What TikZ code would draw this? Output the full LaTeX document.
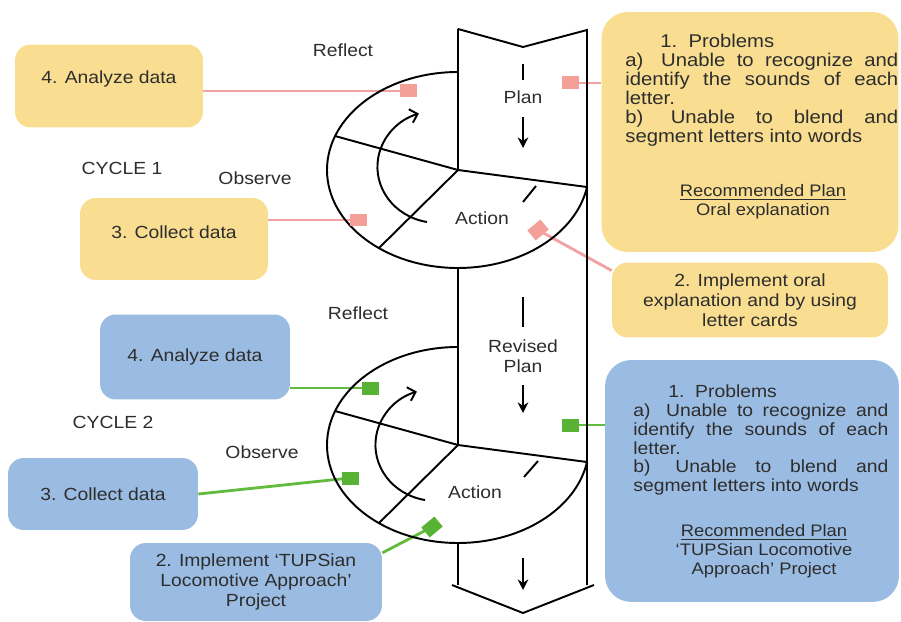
\documentclass[tikz,border=0pt]{standalone}
\usepackage{fontspec}
\setmainfont{Liberation Sans}[FakeStretch=1.1]
\usetikzlibrary{arrows.meta, positioning}
\usepackage{xcolor}
\definecolor{boxyellow}{RGB}{249,222,145}
\definecolor{boxblue}{RGB}{155,188,226}
\definecolor{linkpink}{RGB}{242,162,162}
\definecolor{tagpink}{RGB}{244,160,152}
\definecolor{linkgreen}{RGB}{98,186,62}
\definecolor{taggreen}{RGB}{88,178,52}
\definecolor{txtgray}{RGB}{45,45,45}

\begin{document}
\begin{tikzpicture}[
    x=0.02cm, y=-0.02cm,
    >=Stealth,
    every node/.style={font=\fontsize{10}{11.5}\selectfont, text=txtgray, inner sep=0pt},
    yelbox/.style={rectangle, rounded corners=9pt, fill=boxyellow, align=center},
    blubox/.style={rectangle, rounded corners=9pt, fill=boxblue, align=center},
    bigbox/.style={rounded corners=15pt},
    spiral/.style={draw=black, line width=1.1pt},
    pinkln/.style={draw=linkpink, line width=1.6pt},
    greenln/.style={draw=linkgreen, line width=1.6pt},
    ptag/.style={rectangle, fill=tagpink, minimum width=0.34cm, minimum height=0.26cm},
    gtag/.style={rectangle, fill=taggreen, minimum width=0.34cm, minimum height=0.26cm},
    probtext/.style={align=justify, anchor=north west, font=\fontsize{10.5}{10.8}\selectfont},
    rectext/.style={align=center, font=\fontsize{9.5}{10.8}\selectfont}
  ]

  \useasboundingbox[fill=white] (0,0) rectangle (901,621);

  % cycle 1 boxes
  \node[yelbox, minimum width=3.76cm, minimum height=1.66cm, text depth=10pt] (ana1) at (109,86) {4. Analyze data};
  \node[yelbox, minimum width=3.76cm, minimum height=1.64cm, text depth=8pt] (col1) at (174,239) {3. Collect data};
  \node[yelbox, bigbox, minimum width=5.94cm, minimum height=4.8cm] (prob1) at (750,132) {};
  \node[yelbox, minimum width=5.52cm, minimum height=1.5cm] (impl1) at (750,300) {2. Implement oral\\explanation and by using\\letter cards};

  \node[probtext, text width=5.46cm] (p1txt) at (625,34)
    {\hspace*{0.7cm}1.\ \ Problems\\
     a)\hspace{0.35em} Unable to recognize and\linebreak identify the sounds of each\linebreak letter.\\
     b)\hspace{0.35em} Unable to blend and\linebreak segment letters into words};
  \node[rectext] (rec1) at (763,202) {\underline{Recommended Plan}\\Oral explanation};

  % cycle 2 boxes
  \node[blubox, minimum width=3.8cm, minimum height=1.7cm] (ana2) at (195,357) {4. Analyze data};
  \node[blubox, minimum width=3.8cm, minimum height=1.44cm] (col2) at (103,494) {3. Collect data};
  \node[blubox, minimum width=5.04cm, minimum height=1.56cm] (impl2) at (256,582) {2. Implement `TUPSian\\Locomotive Approach'\\Project};
  \node[blubox, bigbox, minimum width=5.88cm, minimum height=4.84cm] (prob2) at (752,481) {};

  \node[probtext, text width=5.1cm, font=\fontsize{10}{10.8}\selectfont] (p2txt) at (633,384)
    {\hspace*{0.7cm}1.\ \ Problems\\
     a)\hspace{0.35em} Unable to recognize and\linebreak identify the sounds of each\linebreak letter.\\
     b)\hspace{0.35em} Unable to blend and\linebreak segment letters into words};
  \node[rectext] (rec2) at (764,551) {\underline{Recommended Plan}\\`TUPSian Locomotive\\Approach' Project};

  % tag positions
  \coordinate (t1) at (408,91);
  \coordinate (t2) at (358,220);
  \coordinate (t3) at (570,83);
  \coordinate (t4) at (538,230);
  \coordinate (g1) at (370,388);
  \coordinate (g2) at (350,478);
  \coordinate (g3) at (432,527);
  \coordinate (g4) at (570,425);

  \draw[pinkln] (ana1.east |- t1) -- (t1);
  \draw[pinkln] (col1.east |- t2) -- (t2);
  \draw[pinkln] (prob1.west |- t3) -- (t3);
  \draw[pinkln] (impl1.168) -- (t4);
  \draw[greenln] (ana2.east |- g1) -- (g1);
  \draw[greenln] (col2.east) -- (g2);
  \draw[greenln] (impl2.13) -- (g3);
  \draw[greenln] (prob2.west |- g4) -- (g4);

  % cycle 1
  \coordinate (c1) at (458,170);
  \draw[spiral] (458,72) arc[start angle=270, end angle=10, x radius=131, y radius=98] coordinate (r1);
  \draw[spiral] (458,29) -- (c1) -- (r1);
  \draw[spiral] (c1) -- (335,136);
  \draw[spiral] (c1) -- (379,248);
  \draw[spiral, -{Straight Barb[length=4pt, width=8pt]}] (427,222) arc[start angle=100, end angle=252, x radius=60, y radius=56];
  \draw[spiral] (523,202) -- (536,186);

  % cycle 2
  \coordinate (c2) at (458,445);
  \draw[spiral] (458,347) arc[start angle=270, end angle=10, x radius=131, y radius=98] coordinate (r2);
  \draw[spiral] (458,268) -- (c2) -- (r2);
  \draw[spiral] (c2) -- (335,411);
  \draw[spiral] (c2) -- (379,523);
  \draw[spiral, -{Straight Barb[length=4pt, width=8pt]}] (425,500) arc[start angle=100, end angle=252, x radius=60, y radius=56];
  \draw[spiral] (524,477) -- (538,461);

  % column
  \draw[spiral] (458,29) -- (523,47) -- (587,30) -- (587,585);
  \draw[spiral] (458,543) -- (458,585);
  \draw[spiral] (452,585) -- (523,613) -- (594,585);

  \node (plan1) at (523,97) {Plan};
  \node[align=center] (plan2) at (523,356) {Revised\\Plan};
  \draw[spiral] (523,64) -- (523,80);
  \draw[spiral, -{Stealth[length=6pt, width=6pt]}] (523,117) -- (523,148);
  \draw[spiral] (523,297) -- (523,327);
  \draw[spiral, -{Stealth[length=6pt, width=6pt]}] (523,385) -- (523,413);
  \draw[spiral, -{Stealth[length=6pt, width=6pt]}] (523,558) -- (523,590);

  % tags
  \node[ptag] (t1box) at (t1) {};
  \node[ptag] (t2box) at (t2) {};
  \node[ptag] (t3box) at (t3) {};
  \node[ptag, rotate=40] (t4box) at (t4) {};
  \node[gtag] (g1box) at (g1) {};
  \node[gtag] (g2box) at (g2) {};
  \node[gtag, rotate=40] (g3box) at (g3) {};
  \node[gtag] (g4box) at (g4) {};

  % labels
  \node (reflect1) at (343,50) {Reflect};
  \node (observe1) at (255,178) {Observe};
  \node (cyc1) at (122,168) {CYCLE 1};
  \node (action1) at (482,218) {Action};
  \node (reflect2) at (358,313) {Reflect};
  \node (observe2) at (262,452) {Observe};
  \node (cyc2) at (113,422) {CYCLE 2};
  \node (action2) at (475,492) {Action};

\end{tikzpicture}
\end{document}
